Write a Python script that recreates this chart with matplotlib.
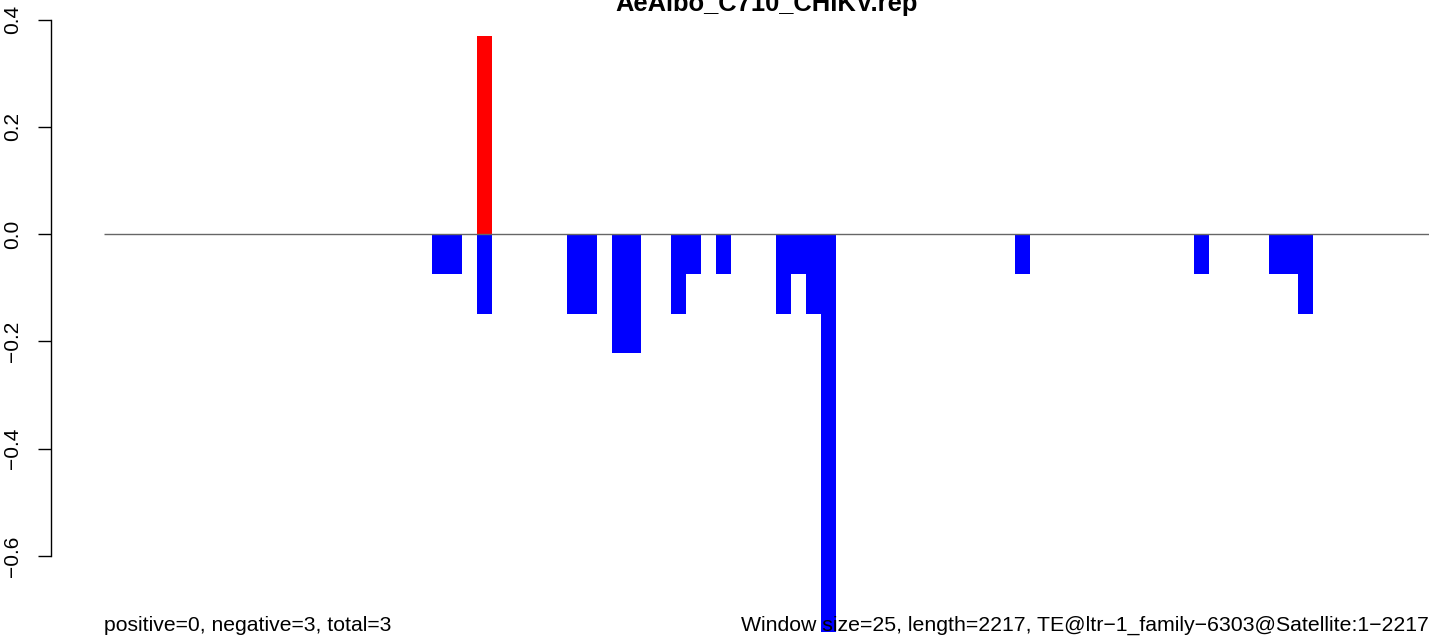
import matplotlib
matplotlib.use("Agg")
import matplotlib.pyplot as plt

# ---- data ----
n_windows = 89
neg_windows = [22, 23, 25, 31, 32, 34, 35, 38, 39, 41, 45, 46, 47, 48, 61, 73, 78, 79, 80]
neg_values = [-0.074, -0.074, -0.148, -0.148, -0.148, -0.222, -0.222, -0.148, -0.074,
              -0.074, -0.148, -0.074, -0.148, -0.741, -0.074, -0.074, -0.074, -0.074, -0.148]
pos_windows = [25]
pos_values = [0.370]
yticks = [-0.6, -0.4, -0.2, 0.0, 0.2, 0.4]
ytick_labels = ["\u22120.6", "\u22120.4", "\u22120.2", "0.0", "0.2", "0.4"]
title = "AeAlbo_C710_CHIKV.rep"
left_note = "positive=0, negative=3, total=3"
right_note = "Window size=25, length=2217, TE@ltr\u22121_family\u22126303@Satellite:1\u22122217"

plt.rcParams['font.family'] = ['Liberation Sans', 'DejaVu Sans']

W, H = 1429, 637
fig = plt.figure(figsize=(W / 100, H / 100), dpi=100)

# plot region in pixels (extends beyond image as in the original)
left_px, right_px = 50.7, 1486.0
top_px, bot_px = 11.9, 655.5
ax = fig.add_axes([left_px / W, 1 - bot_px / H, (right_px - left_px) / W, (bot_px - top_px) / H])
ax.patch.set_alpha(0)

ax.bar(neg_windows, neg_values, width=1.0, align='edge', color='#0000FF', linewidth=0, antialiased=False)
ax.bar(pos_windows, pos_values, width=1.0, align='edge', color='#FF0000', linewidth=0, antialiased=False)
ax.hlines(0, 0, n_windows, color='#666666', linewidth=1.0, zorder=3)

ax.set_xlim(-0.04 * n_windows, n_windows * 1.04)
ymin, ymax = min(neg_values), max(pos_values)
rng = ymax - ymin
ax.set_ylim(ymin - 0.04 * rng, ymax + 0.04 * rng)

for s in ['top', 'right', 'bottom']:
    ax.spines[s].set_visible(False)
ax.spines['left'].set_bounds(-0.6, 0.4)
ax.spines['left'].set_linewidth(1.0)
ax.set_xticks([])
ax.set_yticks(yticks)
ax.set_yticklabels(ytick_labels, rotation=90, va='center', ha='right')
ax.tick_params(axis='y', length=9.4, width=1.0, pad=11.0, labelsize=15)

fs = 15.2
fig.text(104 / W, 1 - 631 / H, left_note, fontsize=fs, ha='left', va='baseline')
fig.text(1428.5 / W, 1 - 631 / H, right_note, fontsize=15.35, ha='right', va='baseline')
fig.text(767 / W, 1 - 10.5 / H, title, fontsize=18.4, fontweight='bold', ha='center', va='baseline')

fig.savefig("out.png", dpi=100)
